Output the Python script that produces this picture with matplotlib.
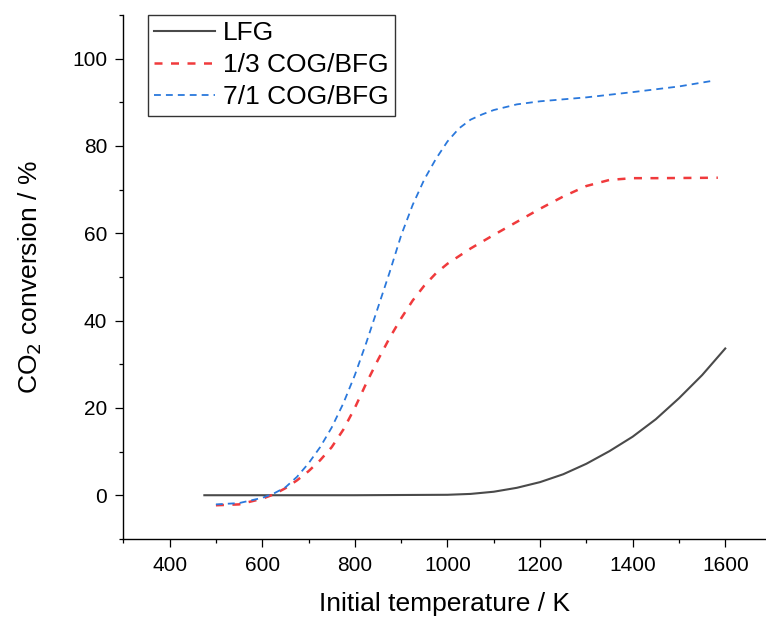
import matplotlib.pyplot as plt
from matplotlib.ticker import MultipleLocator

plt.rcParams['font.family'] = ['Liberation Sans', 'DejaVu Sans']

# LFG
lfg_t = [475, 600, 800, 1000, 1050, 1100, 1150, 1200, 1250, 1300, 1350,
         1400, 1450, 1500, 1550, 1600]
lfg_v = [0.0, 0.0, 0.0, 0.1, 0.3, 0.8, 1.7, 3.0, 4.8, 7.2, 10.1,
         13.4, 17.4, 22.2, 27.5, 33.6]

# 1/3 COG/BFG
red_t = [500, 550, 600, 625, 650, 675, 700, 725, 750, 775, 800, 825, 850, 875,
         900, 925, 950, 975, 1000, 1050, 1100, 1150, 1200, 1250, 1300, 1350,
         1400, 1450, 1584]
red_v = [-2.3, -2.1, -0.8, 0.2, 1.6, 3.4, 5.5, 8.0, 11.0, 15.0, 20.0, 25.7, 31.0, 36.0,
         40.5, 44.6, 48.0, 50.8, 53.0, 56.5, 59.6, 62.6, 65.6, 68.4, 70.8, 72.2,
         72.6, 72.6, 72.7]

# 7/1 COG/BFG
blue_t = [500, 550, 600, 625, 650, 675, 700, 725, 750, 775, 800, 825, 850, 875,
          900, 925, 950, 975, 1000, 1025, 1050, 1075, 1100, 1150, 1200, 1300,
          1400, 1500, 1573]
blue_v = [-2.1, -1.8, -0.6, 0.4, 1.8, 4.2, 7.3, 11.0, 15.5, 21.0, 27.5, 35.0, 43.0, 51.0,
          59.5, 66.5, 72.3, 77.0, 81.0, 84.0, 86.0, 87.2, 88.2, 89.5, 90.2, 91.1,
          92.3, 93.6, 94.9]

fig = plt.figure(figsize=(7.66, 6.18), dpi=100)
ax = fig.add_axes([0.161, 0.128, 0.839, 0.848])

ax.plot(lfg_t, lfg_v, color='#4a4a4a', lw=1.5, label='LFG')
ax.plot(red_t, red_v, color='#f03a3c', lw=1.8, dashes=(3.2, 3.4), label='1/3 COG/BFG')
ax.plot(blue_t, blue_v, color='#2a78dc', lw=1.3, dashes=(3.8, 2.8), label='7/1 COG/BFG')

ax.set_xlim(300, 1688)
ax.set_ylim(-10, 110)
ax.xaxis.set_major_locator(MultipleLocator(200))
ax.xaxis.set_minor_locator(MultipleLocator(100))
ax.yaxis.set_major_locator(MultipleLocator(20))
ax.yaxis.set_minor_locator(MultipleLocator(10))
ax.set_xticks(range(400, 1601, 200))
ax.set_yticks(range(0, 101, 20))

ax.spines['top'].set_visible(False)
ax.spines['right'].set_visible(False)
for s in ['left', 'bottom']:
    ax.spines[s].set_linewidth(1.0)
ax.tick_params(which='major', direction='out', length=5.5, width=0.9, labelsize=15, pad=6)
ax.tick_params(which='minor', direction='out', length=3, width=0.9)
ax.tick_params(axis='x', which='major', pad=7)

ax.set_xlabel('Initial temperature / K', fontsize=19, labelpad=12)
ax.set_ylabel('CO$_2$ conversion / %', fontsize=19, labelpad=20)

leg = ax.legend(loc='upper left', bbox_to_anchor=(0.038, 1.0), borderaxespad=0,
                fontsize=19, frameon=True, fancybox=False, handlelength=2.3,
                handletextpad=0.3, labelspacing=0.3, borderpad=0.25)
leg.get_frame().set_edgecolor('black')
leg.get_frame().set_linewidth(1.0)

fig.savefig('out.png', dpi=100)
